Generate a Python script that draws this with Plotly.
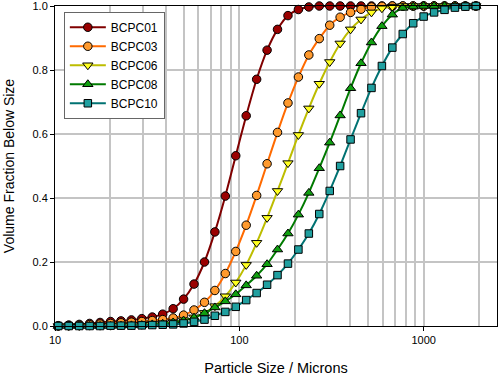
import plotly.graph_objects as go

# Particle sizes (microns), log-spaced size classes
sizes = [10.42, 11.87, 13.53, 15.41, 17.56, 20.01, 22.80, 25.97, 29.58, 33.71,
         38.40, 43.75, 49.84, 56.79, 64.70, 73.71, 83.98, 95.65, 108.97, 124.17,
         141.46, 161.14, 183.62, 209.19, 238.30, 271.52, 309.35, 352.37, 401.41, 457.41,
         521.15, 593.65, 676.38, 770.51, 877.72, 1000.2, 1139.5, 1298.0, 1478.6, 1684.6,
         1918.9]

bcpc01 = [0.001, 0.003, 0.005, 0.008, 0.011, 0.014, 0.016, 0.019, 0.023, 0.028,
          0.037, 0.054, 0.084, 0.131, 0.200, 0.294, 0.406, 0.532, 0.657, 0.771,
          0.862, 0.927, 0.970, 0.989, 0.997, 1.0, 1.0, 1.0, 1.0, 1.0,
          1.0, 1.0, 1.0, 1.0, 1.0, 1.0, 1.0, 1.0, 1.0, 1.0,
          1.0]
bcpc03 = [0.000, 0.001, 0.002, 0.004, 0.006, 0.008, 0.010, 0.012, 0.014, 0.017,
          0.020, 0.025, 0.034, 0.050, 0.074, 0.111, 0.164, 0.233, 0.315, 0.408,
          0.507, 0.605, 0.697, 0.778, 0.847, 0.898, 0.940, 0.965, 0.980, 0.990,
          0.997, 0.999, 1.0, 1.0, 1.0, 1.0, 1.0, 1.0, 1.0, 1.0,
          1.0]
bcpc06 = [0.000, 0.000, 0.000, 0.001, 0.001, 0.001, 0.002, 0.003, 0.004, 0.006,
          0.008, 0.012, 0.018, 0.027, 0.041, 0.062, 0.093, 0.136, 0.191, 0.260,
          0.338, 0.422, 0.509, 0.597, 0.680, 0.757, 0.825, 0.883, 0.927, 0.958,
          0.980, 0.993, 0.998, 1.0, 1.0, 1.0, 1.0, 1.0, 1.0, 1.0,
          1.0]
bcpc08 = [0.000, 0.000, 0.000, 0.000, 0.000, 0.000, 0.001, 0.002, 0.003, 0.005,
          0.007, 0.011, 0.017, 0.026, 0.040, 0.058, 0.077, 0.099, 0.127, 0.157,
          0.193, 0.239, 0.289, 0.348, 0.416, 0.493, 0.573, 0.658, 0.743, 0.821,
          0.886, 0.937, 0.973, 0.994, 0.998, 1.0, 1.0, 1.0, 1.0, 1.0,
          1.0]
bcpc10 = [0.000, 0.000, 0.000, 0.000, 0.000, 0.001, 0.001, 0.001, 0.002, 0.003,
          0.004, 0.005, 0.008, 0.013, 0.020, 0.032, 0.044, 0.060, 0.081, 0.103,
          0.129, 0.159, 0.195, 0.239, 0.289, 0.350, 0.422, 0.500, 0.583, 0.665,
          0.744, 0.8125, 0.870, 0.9125, 0.946, 0.967, 0.980, 0.988, 0.995, 0.998,
          1.0]

names = ["BCPC01", "BCPC03", "BCPC06", "BCPC08", "BCPC10"]
series = [bcpc01, bcpc03, bcpc06, bcpc08, bcpc10]
line_colors = ["#800000", "#FF6A00", "#BDBD00", "#007A00", "#007272"]
fill_colors = ["#9A0000", "#FF9A2E", "#FFFF20", "#10A010", "#20A0A0"]
symbols = ["circle", "circle", "triangle-down", "triangle-up", "square"]
msizes = [8.5, 8.5, 9, 9, 7.5]

x_major = [10, 100, 1000]
x_minor = [20, 30, 40, 50, 60, 70, 80, 90, 200, 300, 400, 500, 600, 700, 800, 900, 2000]
y_ticks = [0.0, 0.2, 0.4, 0.6, 0.8, 1.0]

fig = go.Figure()
for n, ys, lc, fc, sym, ms in zip(names, series, line_colors, fill_colors, symbols, msizes):
    fig.add_trace(go.Scatter(
        x=sizes, y=ys, name=n, mode="lines+markers",
        line=dict(color=lc, width=2, shape="spline", smoothing=0.6),
        marker=dict(symbol=sym, size=ms, color=fc, line=dict(color="#000000", width=1)),
        cliponaxis=False,
    ))

font_family = "Arial, 'Liberation Sans', sans-serif"
fig.update_layout(
    width=500, height=377,
    margin=dict(l=55, r=3, t=6, b=51, autoexpand=False),
    paper_bgcolor="white", plot_bgcolor="white",
    font=dict(family=font_family, size=11, color="#000000"),
    showlegend=True,
    legend=dict(
        x=0.02, y=0.982, xanchor="left", yanchor="top",
        bgcolor="white", bordercolor="#666666", borderwidth=1,
        font=dict(family=font_family, size=12, color="#000000"),
        itemwidth=36, tracegroupgap=0,
    ),
    xaxis=dict(
        type="log", range=[1, 3.398], automargin=False,
        tickvals=x_major, ticktext=[str(v) for v in x_major],
        ticks="outside", ticklen=4, tickcolor="#000000",
        showgrid=True, gridcolor="#C4C4C4", gridwidth=1.5,
        minor=dict(tickvals=x_minor, showgrid=True, gridcolor="#C4C4C4", gridwidth=1.5, ticks=""),
        showline=True, linecolor="#000000", linewidth=1, mirror=True,
        zeroline=False, ticklabeloverflow="allow",
        title=dict(text="Particle Size / Microns", font=dict(size=14.5), standoff=17),
        tickfont=dict(size=11),
    ),
    yaxis=dict(
        range=[0, 1], automargin=False,
        tickvals=y_ticks, tickformat=".1f",
        ticks="outside", ticklen=4, tickcolor="#000000",
        showgrid=True, gridcolor="#C4C4C4", gridwidth=1.5,
        showline=True, linecolor="#000000", linewidth=1, mirror=True,
        zeroline=False, ticklabeloverflow="allow",
        title=dict(text="Volume Fraction Below Size", font=dict(size=14), standoff=14),
        tickfont=dict(size=11),
    ),
)

fig.write_html("out.html", config={"displayModeBar": False},
               post_script="document.body.style.margin='0';")
